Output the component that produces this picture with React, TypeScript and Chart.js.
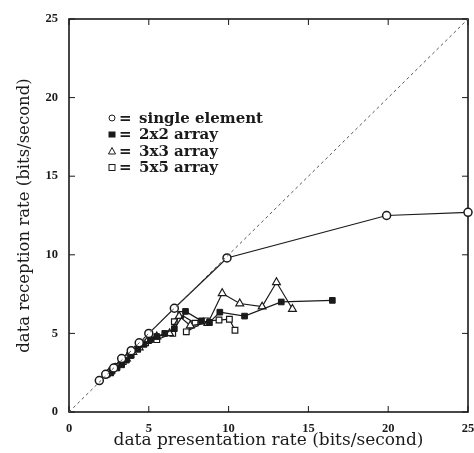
import React, { useEffect, useRef } from "react";
import { Chart, registerables } from "chart.js";

Chart.register(...registerables);

const tickValues = [0, 5, 10, 15, 20, 25];

const singleX = [1.9, 2.3, 2.8, 3.3, 3.9, 4.4, 5.0, 6.6, 9.9, 19.9, 25];
const singleY = [2.0, 2.4, 2.8, 3.4, 3.9, 4.4, 5.0, 6.6, 9.8, 12.5, 12.7];

const arr2X = [2.4, 2.7, 3.0, 3.3, 3.6, 3.9, 4.3, 4.7, 5.1, 5.5, 6.0, 6.6, 7.3, 8.3, 8.8, 9.45, 11.0, 13.3, 16.5];
const arr2Y = [2.4, 2.6, 2.8, 3.0, 3.3, 3.6, 4.0, 4.3, 4.6, 4.8, 5.0, 5.3, 6.4, 5.8, 5.7, 6.35, 6.1, 7.0, 7.1];

const arr3X = [2.5, 2.9, 3.2, 3.6, 4.0, 4.4, 4.9, 5.5, 6.3, 6.9, 7.6, 8.7, 9.6, 10.7, 12.1, 13.0, 14.0];
const arr3Y = [2.5, 2.8, 3.1, 3.4, 3.8, 4.1, 4.5, 4.8, 5.0, 6.1, 5.5, 5.65, 7.55, 6.9, 6.7, 8.25, 6.55];

const arr5X = [2.6, 3.0, 3.4, 3.8, 4.3, 4.8, 5.5, 6.5, 6.6, 7.0, 7.9, 7.35, 8.6, 9.4, 10.05, 10.4];
const arr5Y = [2.5, 2.9, 3.2, 3.6, 4.0, 4.4, 4.6, 5.0, 5.75, 6.2, 5.65, 5.1, 5.8, 5.85, 5.9, 5.2];

const diagX = [0, 25];
const diagY = [0, 25];

const legendLabels = ["single element", "2x2 array", "3x3 array", "5x5 array"];

const zip = (xs: number[], ys: number[]) => xs.map((x, i) => ({ x, y: ys[i] }));

const INK = "#1a1a1a";

const framePlugin = {
  id: "frame",
  beforeDatasetsDraw(chart: any) {
    const { ctx, chartArea, scales } = chart;
    const { left, right, top, bottom } = chartArea;
    const xs = scales.x;
    const ys = scales.y;
    ctx.save();
    ctx.strokeStyle = INK;
    ctx.lineWidth = 1.6;
    ctx.strokeRect(left, top, right - left, bottom - top);
    ctx.lineWidth = 1;
    const seg = (a: number, b: number, c: number, d: number) => {
      ctx.beginPath();
      ctx.moveTo(a, b);
      ctx.lineTo(c, d);
      ctx.stroke();
    };
    for (const v of tickValues) {
      const px = xs.getPixelForValue(v);
      seg(px, bottom, px, bottom - 6);
      seg(px, top, px, top + 6);
      const py = ys.getPixelForValue(v);
      seg(left, py, left + 6, py);
      seg(right, py, right - 6, py);
    }
    ctx.restore();
  },
  afterDraw(chart: any) {
    const { ctx } = chart;
    const sx = 112;
    const ex = 119;
    const tx = 139;
    const y0 = 118;
    const dy = 16.5;
    ctx.save();
    ctx.font = "bold 15px 'DejaVu Serif'";
    ctx.fillStyle = INK;
    ctx.strokeStyle = INK;
    ctx.lineWidth = 1;
    ctx.textBaseline = "middle";
    legendLabels.forEach((t, i) => {
      const y = y0 + i * dy;
      ctx.beginPath();
      if (i === 0) {
        ctx.arc(sx, y, 3, 0, Math.PI * 2);
        ctx.stroke();
      } else if (i === 1) {
        ctx.fillRect(sx - 3.5, y - 3, 7, 6);
      } else if (i === 2) {
        ctx.moveTo(sx, y - 3.5);
        ctx.lineTo(sx + 3.5, y + 3);
        ctx.lineTo(sx - 3.5, y + 3);
        ctx.closePath();
        ctx.stroke();
      } else {
        ctx.strokeRect(sx - 3, y - 3, 6, 6);
      }
      ctx.fillText("=", ex, y + 1);
      ctx.fillText(t, tx, y + 1);
    });
    ctx.restore();
  },
};

export default function App() {
  const ref = useRef<HTMLCanvasElement | null>(null);

  useEffect(() => {
    if (!ref.current) return;
    const tickFont = { family: "'Liberation Serif'", size: 12.5, weight: "bold" as const };
    const titleFont = { family: "'DejaVu Serif'", size: 16.5 };
    const chart = new Chart(ref.current, {
      type: "scatter",
      data: {
        datasets: [
          {
            label: "diag",
            data: zip(diagX, diagY),
            showLine: true,
            borderColor: "#555",
            borderWidth: 1,
            borderDash: [3, 3],
            pointRadius: 0,
          },
          {
            label: "single element",
            data: zip(singleX, singleY),
            showLine: true,
            borderColor: INK,
            borderWidth: 1.2,
            pointStyle: "circle",
            pointRadius: 4,
            pointBorderWidth: 1.5,
            pointBackgroundColor: "#fff",
            pointBorderColor: INK,
            clip: false as any,
          },
          {
            label: "2x2 array",
            data: zip(arr2X, arr2Y),
            showLine: true,
            borderColor: INK,
            borderWidth: 1.2,
            pointStyle: "rect",
            pointRadius: 4,
            pointBorderWidth: 1,
            pointBackgroundColor: INK,
            pointBorderColor: INK,
          },
          {
            label: "3x3 array",
            data: zip(arr3X, arr3Y),
            showLine: true,
            borderColor: INK,
            borderWidth: 1.2,
            pointStyle: "triangle",
            pointRadius: 4.5,
            pointBorderWidth: 1.2,
            pointBackgroundColor: "#fff",
            pointBorderColor: INK,
          },
          {
            label: "5x5 array",
            data: zip(arr5X, arr5Y),
            showLine: true,
            borderColor: INK,
            borderWidth: 1.2,
            pointStyle: "rect",
            pointRadius: 4,
            pointBorderWidth: 1.2,
            pointBackgroundColor: "#fff",
            pointBorderColor: INK,
          },
        ],
      },
      options: {
        animation: false,
        responsive: false,
        maintainAspectRatio: false,
        layout: { padding: { top: 19, right: 6, left: 0, bottom: 0 } },
        plugins: {
          legend: { display: false },
          tooltip: { enabled: false },
        },
        scales: {
          x: {
            type: "linear",
            min: 0,
            max: 25,
            ticks: { stepSize: 5, font: tickFont, color: INK, padding: 1, maxRotation: 0 },
            grid: { display: false },
            border: { display: false },
            title: {
              display: true,
              text: "data presentation rate (bits/second)",
              font: { family: "'DejaVu Serif'", size: 17 },
              color: INK,
              padding: { top: 0, bottom: 2 },
            },
            afterFit(s: any) {
              s.height = 41;
              s.paddingLeft = 0;
              s.paddingRight = 0;
            },
          },
          y: {
            type: "linear",
            min: 0,
            max: 25,
            ticks: { stepSize: 5, font: tickFont, color: INK, padding: 3 },
            grid: { display: false },
            border: { display: false },
            title: {
              display: true,
              text: "data reception rate (bits/second)",
              font: titleFont,
              color: INK,
              padding: { top: 15, bottom: 0 },
            },
            afterFit(s: any) {
              s.width = 69;
              s.paddingTop = 0;
              s.paddingBottom = 0;
            },
          },
        },
      },
      plugins: [framePlugin],
    });
    return () => chart.destroy();
  }, []);

  return (
    <div style={{ position: "absolute", left: 0, top: 0, width: 474, height: 453, background: "#fff" }}>
      <canvas ref={ref} width={474} height={453} style={{ display: "block" }} />
    </div>
  );
}
